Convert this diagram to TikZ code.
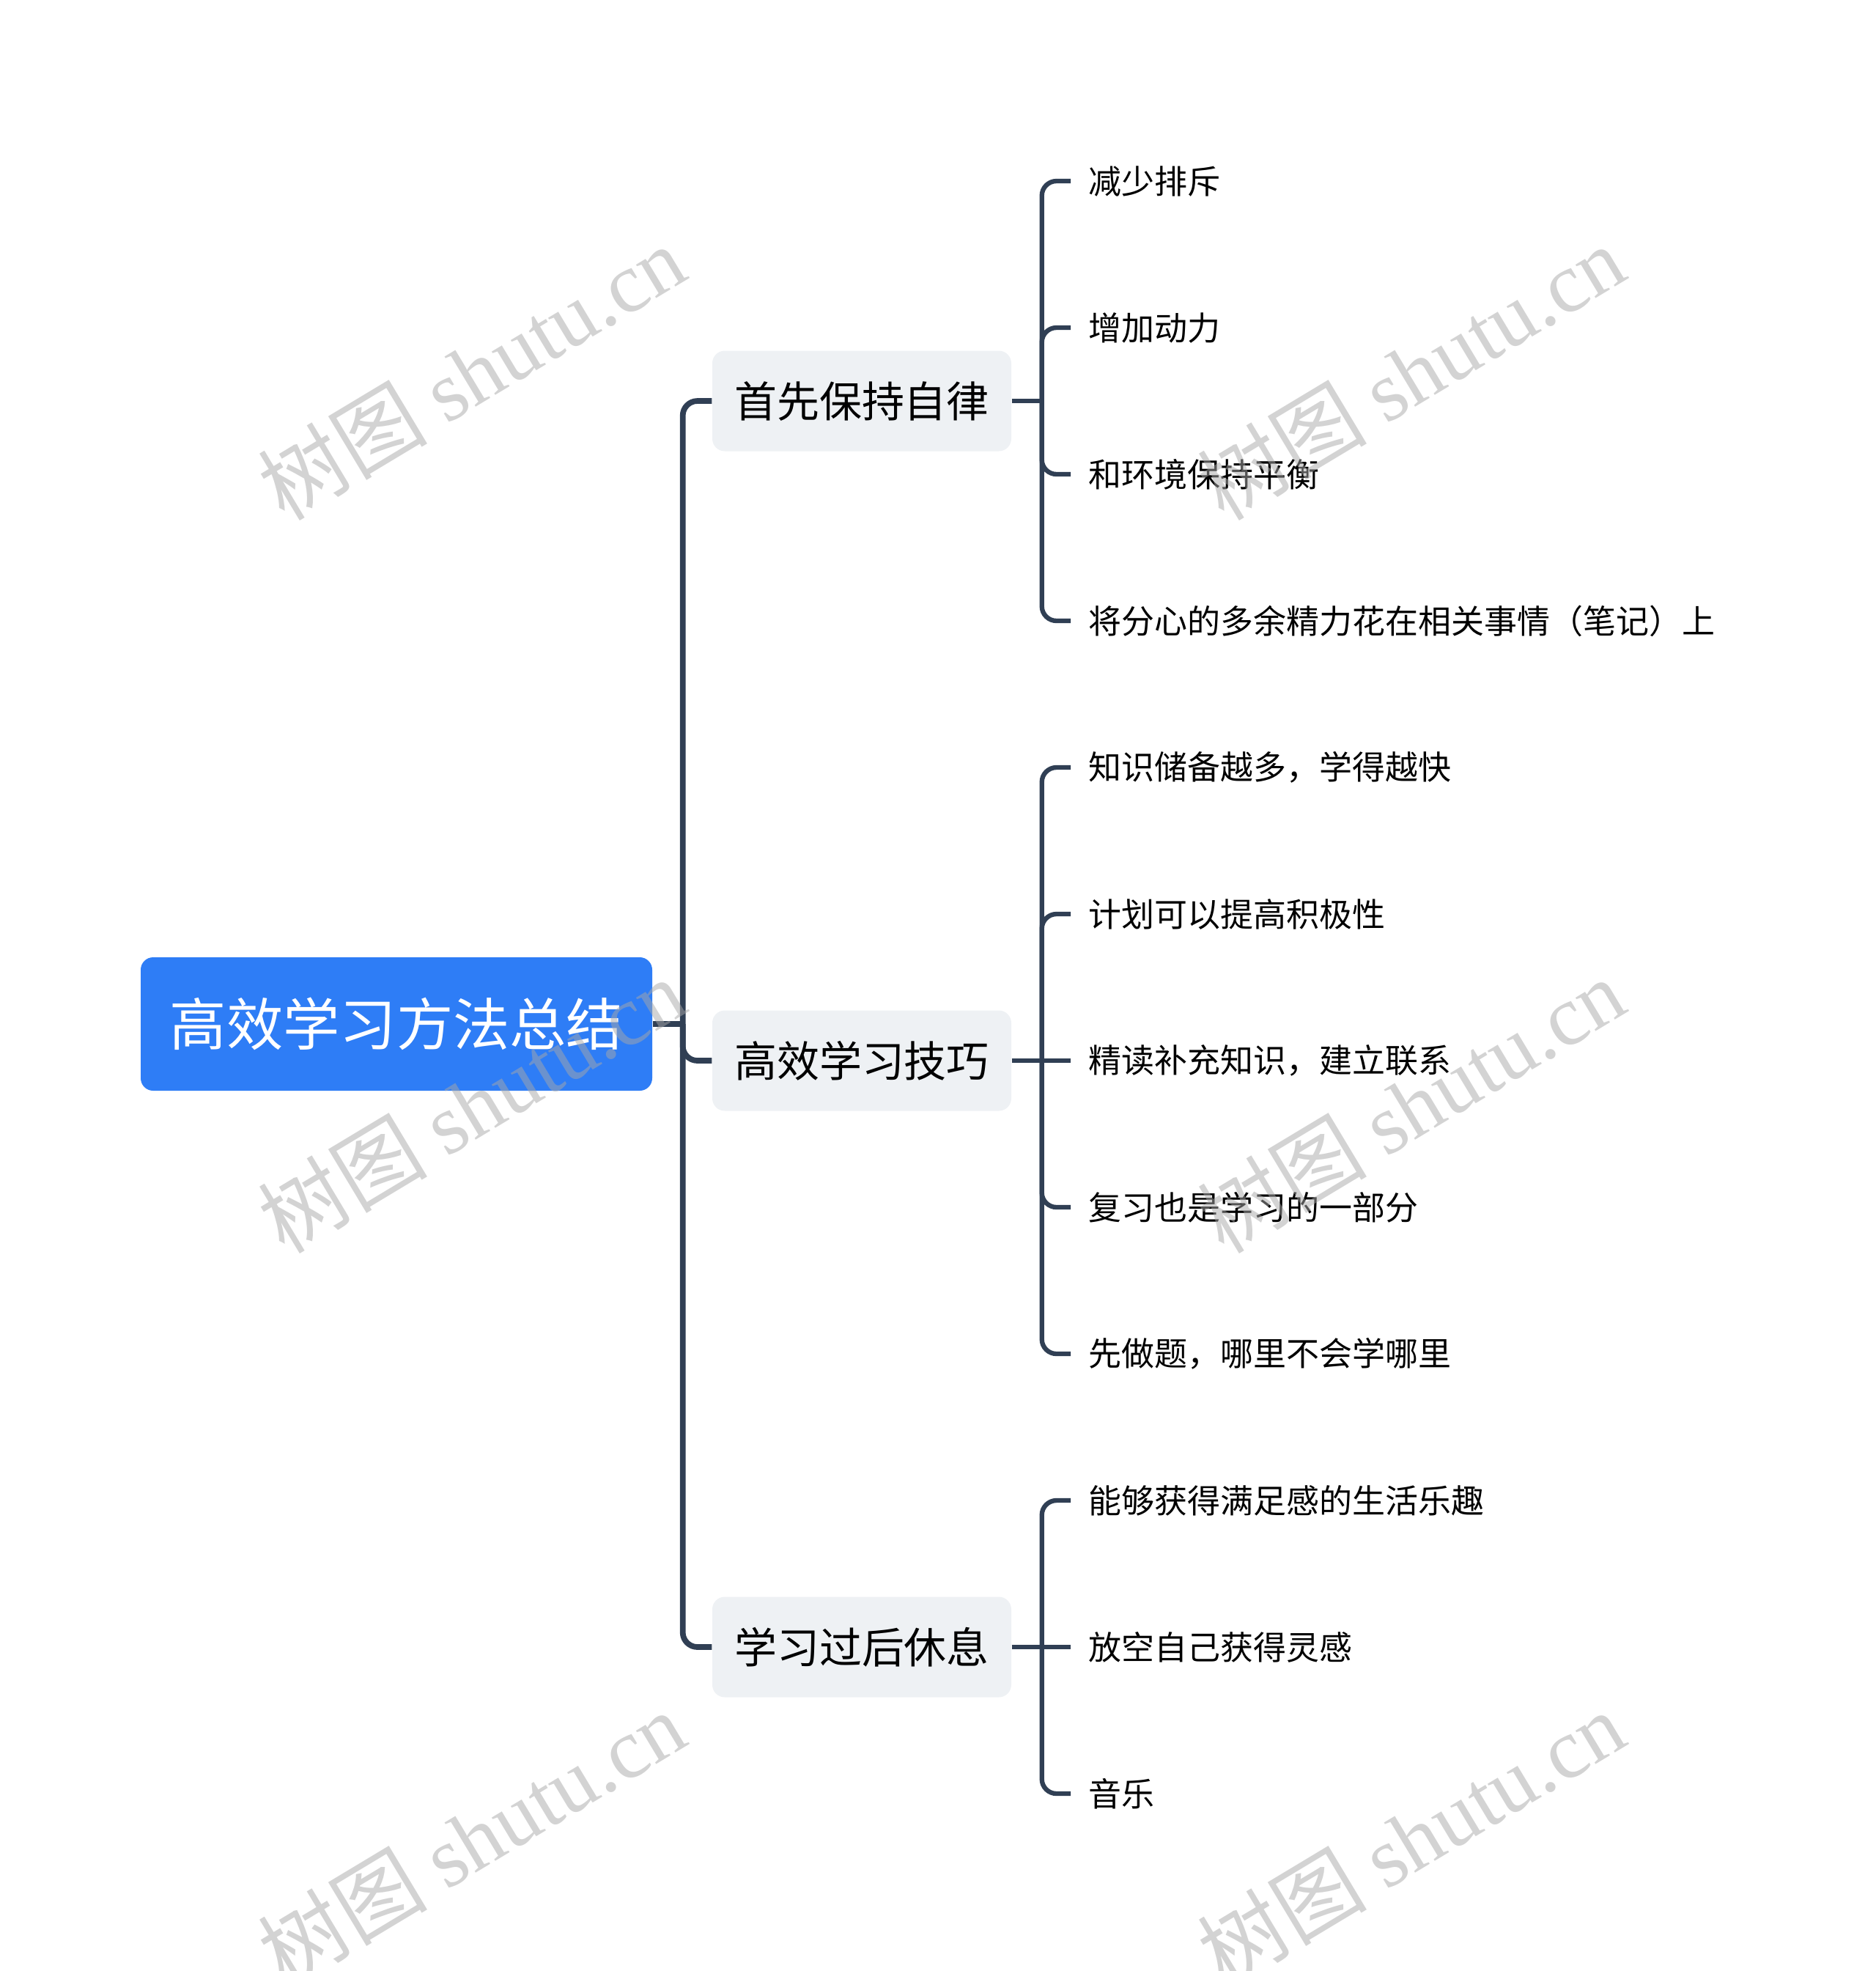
\documentclass[tikz,border=0pt]{standalone}
\usepackage{fontspec}
\setmainfont{Noto Sans CJK SC}
\newfontfamily\wmlatin{Liberation Serif}
\usepackage{tikz}
\usetikzlibrary{positioning}
\usepackage{xcolor}
\definecolor{rootblue}{RGB}{46,125,246}
\definecolor{subgrey}{RGB}{238,241,244}
\definecolor{linkcol}{RGB}{48,63,84}
\definecolor{wmgrey}{RGB}{168,168,168}

\begin{document}
\begin{tikzpicture}[topic/.style={rectangle, rounded corners=0.17cm, fill=rootblue, text=white, minimum width=6.98cm, minimum height=1.82cm, font=\fontsize{22}{26}\selectfont},
	sub/.style={rectangle, rounded corners=0.17cm, fill=subgrey, text=black, minimum width=4.08cm, minimum height=1.37cm, font=\fontsize{16.5}{20}\selectfont},
	leaf/.style={anchor=west, inner xsep=0.24cm, inner ysep=0.1cm, text=black, font=\fontsize{12.8}{15}\selectfont},
	link/.style={draw=linkcol, line width=2.2pt, rounded corners=0.2cm},
	twig/.style={draw=linkcol, line width=1.8pt, rounded corners=0.2cm},
	wmark/.style={rotate=31, text=wmgrey, text opacity=0.5, font=\fontsize{33}{38}\selectfont}]
			\useasboundingbox (0,0) rectangle (25.6,-26.89);
			
			\node [topic] (root) at (5.41,-13.97) {高效学习方法总结};
			
			\node [sub] (s1) at (11.76,-5.47) {首先保持自律};
			\node [sub] (s2) at (11.76,-14.47) {高效学习技巧};
			\node [sub] (s3) at (11.76,-22.47) {学习过后休息};
			
			\coordinate (j0) at ([xshift=0.41cm]root.east);
			\draw [link] (root.east) -- (j0);
			\draw [link] (j0) |- (s1.west);
			\draw [link] (j0) |- (s2.west);
			\draw [link] (j0) |- (s3.west);
			
			% 首先保持自律
			\node [leaf] (l1) at (14.61,-2.47) {减少排斥};
			\node [leaf] (l2) at (14.61,-4.47) {增加动力};
			\node [leaf] (l3) at (14.61,-6.47) {和环境保持平衡};
			\node [leaf] (l4) at (14.61,-8.47) {将分心的多余精力花在相关事情（笔记）上};
			\coordinate (j1) at ([xshift=0.41cm]s1.east);
			\draw [twig] (s1.east) -- (j1);
			\draw [twig] (j1) |- (l1.west);
			\draw [twig] (j1) |- (l2.west);
			\draw [twig] (j1) |- (l3.west);
			\draw [twig] (j1) |- (l4.west);
			
			% 高效学习技巧
			\node [leaf] (l5) at (14.61,-10.47) {知识储备越多，学得越快};
			\node [leaf] (l6) at (14.61,-12.47) {计划可以提高积极性};
			\node [leaf] (l7) at (14.61,-14.47) {精读补充知识，建立联系};
			\node [leaf] (l8) at (14.61,-16.47) {复习也是学习的一部分};
			\node [leaf] (l9) at (14.61,-18.47) {先做题，哪里不会学哪里};
			\coordinate (j2) at ([xshift=0.41cm]s2.east);
			\draw [twig] (s2.east) -- (j2);
			\draw [twig] (j2) |- (l5.west);
			\draw [twig] (j2) |- (l6.west);
			\draw [twig] (j2) -- (l7.west);
			\draw [twig] (j2) |- (l8.west);
			\draw [twig] (j2) |- (l9.west);
			
			% 学习过后休息
			\node [leaf] (l10) at (14.61,-20.47) {能够获得满足感的生活乐趣};
			\node [leaf] (l11) at (14.61,-22.47) {放空自己获得灵感};
			\node [leaf] (l12) at (14.61,-24.47) {音乐};
			\coordinate (j3) at ([xshift=0.41cm]s3.east);
			\draw [twig] (s3.east) -- (j3);
			\draw [twig] (j3) |- (l10.west);
			\draw [twig] (j3) -- (l11.west);
			\draw [twig] (j3) |- (l12.west);
			
			% watermark
			\node [wmark] (w1) at (6.43,-5.08) {树图 {\wmlatin shutu.cn}};
			\node [wmark] (w2) at (19.25,-5.08) {树图 {\wmlatin shutu.cn}};
			\node [wmark] (w3) at (6.43,-15.08) {树图 {\wmlatin shutu.cn}};
			\node [wmark] (w4) at (19.25,-15.08) {树图 {\wmlatin shutu.cn}};
			\node [wmark] (w5) at (6.43,-25.08) {树图 {\wmlatin shutu.cn}};
			\node [wmark] (w6) at (19.25,-25.08) {树图 {\wmlatin shutu.cn}};
			
		\end{tikzpicture}
\end{document}
